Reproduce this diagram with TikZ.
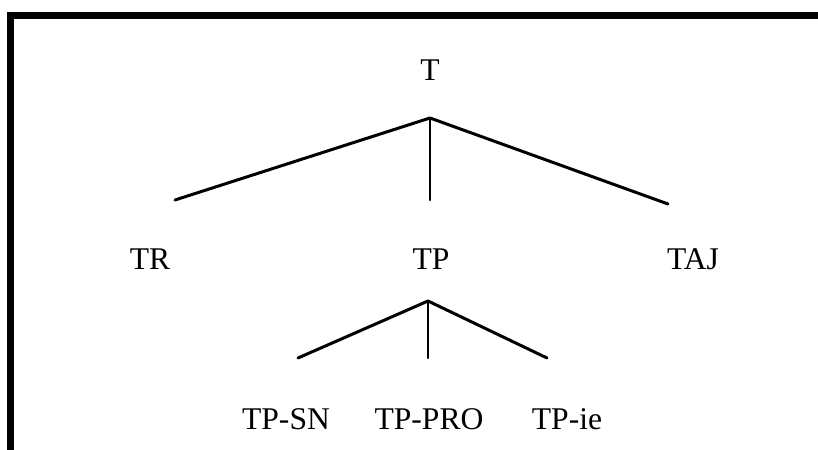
\documentclass[tikz,border=0pt]{standalone}
\usepackage{fontspec}
\setmainfont{Liberation Serif}
\begin{document}
\begin{tikzpicture}[x=0.5bp,y=-0.5bp,
  lbl/.style={anchor=base,inner sep=0pt,font=\fontsize{15.8bp}{19bp}\selectfont},
  branch/.style={line width=1.5bp,line cap=round,line join=round},
  frame/.style={line width=3.4bp}]
\useasboundingbox (0,0) rectangle (818,450);
% frame (top and left)
\draw[frame] (818,15.5) -- (10.5,15.5) -- (10.5,450);
% labels
\node[lbl] (T) at (430,81) {T};
\node[lbl] (TR) at (150,270) {TR};
\node[lbl] (TP) at (431,270) {TP};
\node[lbl] (TAJ) at (693,270) {TAJ};
\node[lbl] (TPSN) at (286,430) {TP-SN};
\node[lbl] (TPPRO) at (429,430) {TP-PRO};
\node[lbl] (TPie) at (567,430) {TP-ie};
% branch points
\coordinate (a1) at (430,118);
\coordinate (l1) at (175,200);
\coordinate (m1) at (430,200);
\coordinate (r1) at (668,204);
\coordinate (a2) at (428,301);
\coordinate (l2) at (298,358);
\coordinate (m2) at (428,358);
\coordinate (r2) at (547,358);
\draw[branch] (l1) -- (a1) -- (r1);
\draw[branch,line width=1.1bp] (a1) -- (m1);
\draw[branch] (l2) -- (a2) -- (r2);
\draw[branch,line width=1.1bp] (a2) -- (m2);
\end{tikzpicture}
\end{document}
